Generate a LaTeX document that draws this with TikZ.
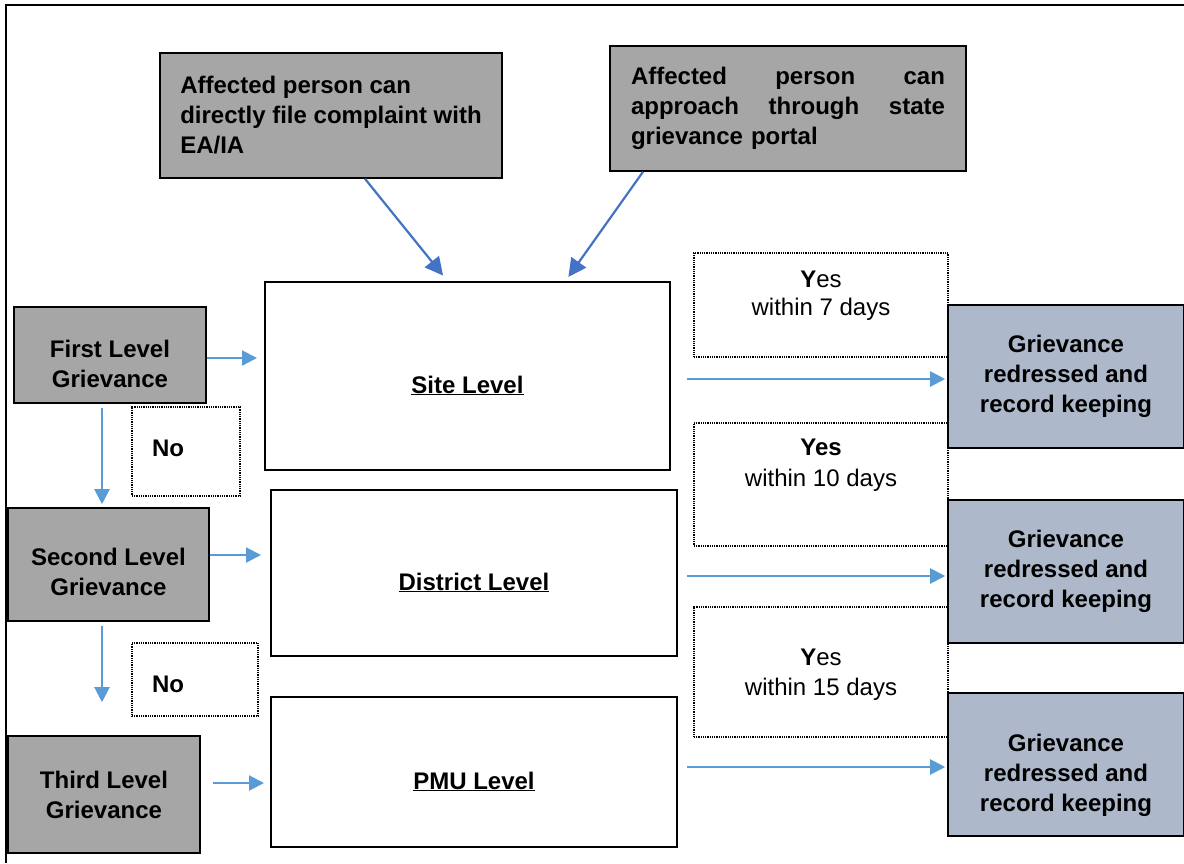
\documentclass[tikz,border=0pt]{standalone}
\usepackage{fontspec}
\setmainfont{Liberation Sans}
\usetikzlibrary{arrows.meta}
\definecolor{boxgrey}{HTML}{A6A6A6}
\definecolor{boxslate}{HTML}{ADB9CA}
\definecolor{arrowdark}{HTML}{4472C4}
\definecolor{arrowlight}{HTML}{5B9BD5}

\begin{document}
\begin{tikzpicture}[x=1pt,y=-1pt,
		greybox/.style={draw,line width=1.6pt,fill=boxgrey,inner sep=0pt,align=center,font=\fontsize{24}{30}\selectfont\bfseries},
		slatebox/.style={greybox,fill=boxslate},
		levelbox/.style={greybox,fill=white,line width=2pt,text height=34pt,text depth=0pt},
		dotbox/.style={draw,line width=1.1pt,dash pattern=on 1pt off 0.8pt,minimum width=254pt},
		yestext/.style={align=center,inner sep=0pt,font=\fontsize{24}{28}\selectfont},
		flow/.style={draw=arrowlight,line width=2.2pt,-{Triangle[length=15pt,width=15pt]}},
		feed/.style={draw=arrowdark,line width=2.2pt,-{Triangle[length=18pt,width=18pt]}}]
	\useasboundingbox (0,0) rectangle (1184,863);
	\draw[line width=1.6pt] (6,863) -- (6,5) -- (1184,5);
	\node[greybox,minimum width=342pt,minimum height=125pt,align=left] (direct) at (331,115.5) {Affected person can\\directly file complaint with\\EA/IA};
	\node[greybox,minimum width=356pt,minimum height=125pt,text width=314pt,align=left] (portal) at (788,108.5) {Affected\hfill person\hfill can\\approach\hfill through\hfill state\\grievance portal};
	\node[levelbox,minimum width=405pt,minimum height=188pt] (site) at (467.5,376) {\underline{Site Level}};
	\node[levelbox,minimum width=406pt,minimum height=166pt] (district) at (474,573) {\underline{District Level}};
	\node[levelbox,minimum width=406pt,minimum height=150pt] (pmu) at (474,772) {\underline{PMU Level}};
	\node[greybox,minimum width=192pt,minimum height=96pt,text height=65pt,text depth=0pt] (first) at (110,355) {First Level\\Grievance};
	\node[greybox,minimum width=201pt,minimum height=113pt,text height=62pt,text depth=0pt] (second) at (108.5,564.5) {Second Level\\Grievance};
	\node[greybox,minimum width=192pt,minimum height=117pt] (third) at (104,794.5) {Third Level\\Grievance};
	\node[dotbox,minimum width=108pt,minimum height=89pt] (noA) at (186,451.5) {};
	\node[dotbox,minimum width=126pt,minimum height=73pt] (noB) at (195,679.5) {};
	\node[yestext,font=\fontsize{24}{28}\selectfont\bfseries] (noAtext) at (168,448) {No};
	\node[yestext,font=\fontsize{24}{28}\selectfont\bfseries] (noBtext) at (168,684) {No};
	\node[dotbox,minimum height=104pt] (yesA) at (821,305) {};
	\node[dotbox,minimum height=123pt] (yesB) at (821,484.5) {};
	\node[dotbox,minimum height=130pt] (yesC) at (821,672) {};
	\node[yestext] (yesAtext) at (821,295.5) {\textbf{Y}es\\within 7 days};
	\node[yestext,font=\fontsize{24}{31}\selectfont] (yesBtext) at (821,465.5) {\textbf{Yes}\\within 10 days};
	\node[yestext,font=\fontsize{24}{30}\selectfont] (yesCtext) at (821,675) {\textbf{Y}es\\within 15 days};
	\node[slatebox,minimum width=236pt,minimum height=143pt] (redressA) at (1066,376.5) {Grievance\\redressed and\\record keeping};
	\node[slatebox,minimum width=236pt,minimum height=143pt] (redressB) at (1066,571.5) {Grievance\\redressed and\\record keeping};
	\node[slatebox,minimum width=236pt,minimum height=143pt,text height=94pt,text depth=0pt] (redressC) at (1066,764.5) {Grievance\\redressed and\\record keeping};
	\draw[feed,shorten >=7pt] ([xshift=34pt]direct.south) -- ([xshift=-20pt]site.north);
	\draw[feed,shorten >=5pt] ([xshift=-145pt]portal.south) -- ([xshift=98pt]site.north);
	\draw[flow,shorten >=7pt] ([yshift=-3pt]first.east) -- ([yshift=-3pt]first.east -| site.west);
	\draw[flow,shorten >=9pt] ([yshift=9.5pt]second.east) -- ([yshift=9.5pt]second.east -| district.west);
	\draw[flow,shorten <=12pt,shorten >=6pt] ([yshift=11.5pt]third.east) -- ([yshift=11.5pt]third.east -| pmu.west);
	\draw[flow,shorten <=4pt,shorten >=3pt] ([xshift=-8pt]first.south) -- ([xshift=-8pt]first.south |- second.north);
	\draw[flow,shorten <=4pt,shorten >=33pt] ([xshift=-6.5pt]second.south) -- ([xshift=-6.5pt]second.south |- third.north);
	\draw[flow,shorten <=16pt,shorten >=2pt] ([yshift=-3pt]site.east) -- ([yshift=-3pt]site.east -| redressA.west);
	\draw[flow,shorten <=9pt,shorten >=2pt] ([yshift=-3pt]district.east) -- ([yshift=-3pt]district.east -| redressB.west);
	\draw[flow,shorten <=9pt,shorten >=2pt] ([yshift=5pt]pmu.east) -- ([yshift=5pt]pmu.east -| redressC.west);
\end{tikzpicture}
\end{document}
